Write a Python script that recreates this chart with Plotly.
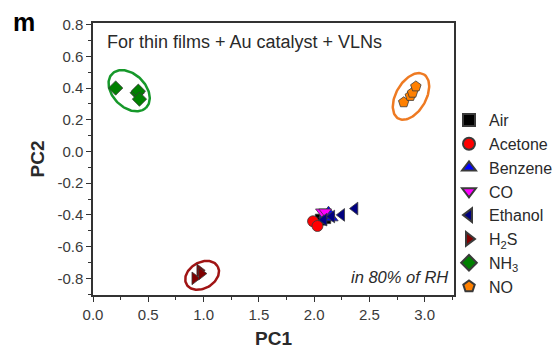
import numpy as np
import plotly.graph_objects as go

# PCA scores per gas (PC1, PC2)
air_pc1 = [2.06, 2.10]
air_pc2 = [-0.43, -0.42]
acetone_pc1 = [1.99, 2.03]
acetone_pc2 = [-0.44, -0.47]
benzene_pc1 = [2.10, 2.13, 2.16]
benzene_pc2 = [-0.40, -0.38, -0.42]
co_pc1 = [2.07, 2.10]
co_pc2 = [-0.38, -0.38]
ethanol_pc1 = [2.09, 2.16, 2.25, 2.37]
ethanol_pc2 = [-0.43, -0.41, -0.40, -0.36]
h2s_pc1 = [0.92, 0.965, 0.98]
h2s_pc2 = [-0.80, -0.75, -0.77]
nh3_pc1 = [0.205, 0.40, 0.41, 0.42]
nh3_pc2 = [0.40, 0.37, 0.38, 0.33]
no_pc1 = [2.81, 2.87, 2.89, 2.92]
no_pc2 = [0.31, 0.35, 0.37, 0.41]

x_ticks = [0.0, 0.5, 1.0, 1.5, 2.0, 2.5, 3.0]
y_ticks = [0.8, 0.6, 0.4, 0.2, 0.0, -0.2, -0.4, -0.6, -0.8]

W, H = 554, 349
ML, MR, MT, MB = 93, 100, 23, 54
XR = [0, 3.265]
YR = [-0.905, 0.81]
PW, PH = W - ML - MR, H - MT - MB
sx = PW / (XR[1] - XR[0])
sy = PH / (YR[1] - YR[0])

FONT = "Liberation Sans, Arial, sans-serif"
TXT = "#2a2a2a"

series = [
    ("Air", air_pc1, air_pc2, "square", "#000000"),
    ("Acetone", acetone_pc1, acetone_pc2, "circle", "#ff0000"),
    ("Benzene", benzene_pc1, benzene_pc2, "triangle-up", "#0000ff"),
    ("CO", co_pc1, co_pc2, "triangle-down", "#ff00ff"),
    ("Ethanol", ethanol_pc1, ethanol_pc2, "triangle-left", "#000080"),
    ("H<sub>2</sub>S", h2s_pc1, h2s_pc2, "triangle-right", "#800000"),
    ("NH<sub>3</sub>", nh3_pc1, nh3_pc2, "diamond", "#008000"),
    ("NO", no_pc1, no_pc2, "pentagon", "#ff8000"),
]

fig = go.Figure()


def ellipse(cx, cy, a, b, ang, color):
    """Cluster outline; semi-axes a, b in screen pixels, ang in degrees."""
    t = np.linspace(0, 2 * np.pi, 121)
    th = np.deg2rad(ang)
    ex = cx + (a * np.cos(t) * np.cos(th) - b * np.sin(t) * np.sin(th)) / sx
    ey = cy + (a * np.cos(t) * np.sin(th) + b * np.sin(t) * np.cos(th)) / sy
    fig.add_trace(go.Scatter(x=ex, y=ey, mode="lines", showlegend=False,
                             hoverinfo="skip",
                             line=dict(color=color, width=2.5)))


ellipse(0.327, 0.383, 24, 16.5, -45, "#16982a")
ellipse(2.876, 0.347, 25.5, 15, 60, "#ee7a22")
ellipse(0.987, -0.781, 18, 13, 30, "#a01414")

for name, xs, ys, sym, col in series:
    fig.add_trace(go.Scatter(
        x=xs, y=ys, mode="markers", name=name,
        marker=dict(symbol=sym, size=11, color=col,
                    line=dict(color="#3a3a3a", width=0.8)),
    ))


def px_x(px):
    return (px - ML) / PW


def px_y(py):
    return (H - MB - py) / PH


fig.add_annotation(x=px_x(105), y=px_y(42), xref="paper", yref="paper",
                   xanchor="left", yanchor="middle", showarrow=False,
                   text="For thin films + Au catalyst + VLNs",
                   font=dict(family=FONT, size=18, color=TXT))
fig.add_annotation(x=px_x(450), y=px_y(277), xref="paper", yref="paper",
                   xanchor="right", yanchor="middle", showarrow=False,
                   text="<i>in 80% of RH</i>",
                   font=dict(family=FONT, size=16.5, color=TXT))
fig.add_annotation(x=px_x(24), y=px_y(22), xref="paper", yref="paper",
                   xanchor="center", yanchor="middle", showarrow=False,
                   text="<b>m</b>",
                   font=dict(family=FONT, size=25, color="#000000"))

axis_common = dict(showline=True, linecolor="#333333", linewidth=1.5,
                   mirror=True, showgrid=False, zeroline=False,
                   ticks="outside", ticklen=5, tickwidth=1.3,
                   tickcolor="#333333",
                   tickfont=dict(family=FONT, size=15, color="#3a3a3a"))

fig.update_xaxes(range=XR, tickvals=x_ticks,
                 ticktext=[f"{v:.1f}" for v in x_ticks],
                 minor=dict(dtick=0.25, tick0=0, ticks="outside", ticklen=3,
                            tickwidth=1.2, tickcolor="#333333"),
                 title=dict(text="<b>PC1</b>", standoff=10,
                            font=dict(family=FONT, size=19, color=TXT)),
                 **axis_common)
fig.update_yaxes(range=YR, tickvals=y_ticks,
                 ticktext=[f"{v:.1f}" for v in y_ticks],
                 minor=dict(dtick=0.1, tick0=0, ticks="outside", ticklen=3,
                            tickwidth=1.2, tickcolor="#333333"),
                 title=dict(text="<b>PC2</b>", standoff=8,
                            font=dict(family=FONT, size=19, color=TXT)),
                 **axis_common)

fig.update_layout(
    width=W, height=H,
    margin=dict(l=ML, r=MR, t=MT, b=MB, autoexpand=False),
    paper_bgcolor="white", plot_bgcolor="white",
    font=dict(family=FONT, color=TXT),
    legend=dict(x=px_x(449), xanchor="left", y=px_y(103), yanchor="top",
                font=dict(family=FONT, size=16, color=TXT),
                bgcolor="rgba(0,0,0,0)", tracegroupgap=0,
                itemsizing="constant"),
)

fig.write_html("out.html")
